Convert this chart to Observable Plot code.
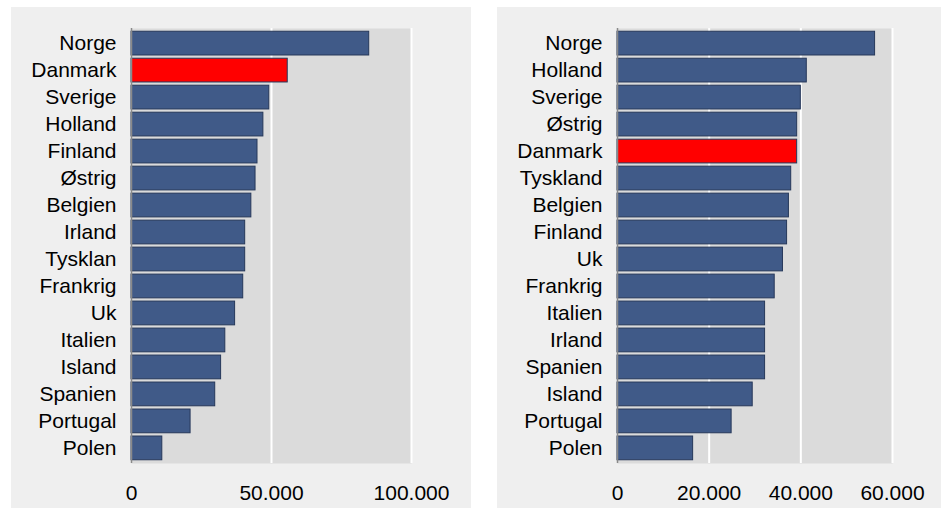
<!DOCTYPE html>
<html>
<head>
<meta charset="utf-8">
<script src="https://cdn.jsdelivr.net/npm/d3@7"></script>
<script src="https://cdn.jsdelivr.net/npm/@observablehq/plot@0.6"></script>
<style>
  html, body { margin: 0; padding: 0; background: #ffffff; }
  #wrap { position: relative; width: 943px; height: 510px; }
  .panel { position: absolute; background: #efefef; }
  #left { left: 11px; top: 7px; width: 460px; height: 501px; }
  #right { left: 497px; top: 7px; width: 444px; height: 501px; }
</style>
</head>
<body>
<div id="wrap">
  <div class="panel" id="left"></div>
  <div class="panel" id="right"></div>
</div>
<script>
const highlight = "Danmark";

const leftCountries = ["Norge","Danmark","Sverige","Holland","Finland","Østrig","Belgien","Irland","Tysklan","Frankrig","Uk","Italien","Island","Spanien","Portugal","Polen"];
const leftValues = [84900, 55800, 49200, 47100, 45000, 44300, 42800, 40600, 40600, 39900, 37000, 33500, 32000, 29900, 21100, 11000];
const leftTicks = [0, 50000, 100000];

const rightCountries = ["Norge","Holland","Sverige","Østrig","Danmark","Tyskland","Belgien","Finland","Uk","Frankrig","Italien","Irland","Spanien","Island","Portugal","Polen"];
const rightValues = [56200, 41300, 40000, 39200, 39200, 37900, 37400, 37000, 36100, 34300, 32200, 32200, 32200, 29500, 24900, 16500];
const rightTicks = [0, 20000, 40000, 60000];

const fmt = d3.formatLocale({decimal: ",", thousands: ".", grouping: [3], currency: ["", ""]}).format(",");

function chart(countries, values, ticks, width, marginRight) {
  const data = countries.map((c, i) => ({country: c, value: values[i]}));
  return Plot.plot({
    width: width,
    height: 501,
    marginLeft: 120,
    marginRight: marginRight,
    marginTop: 21,
    marginBottom: 45,
    style: {fontFamily: "'Liberation Sans', Arial, sans-serif", fontSize: "21px", color: "#000", background: "#efefef", overflow: "visible"},
    x: {domain: [0, ticks[ticks.length - 1]]},
    y: {domain: countries, padding: 0.12, round: false},
    marks: [
      Plot.frame({fill: "#dbdbdb", stroke: null}),
      Plot.gridX(ticks.filter(t => t > 0), {stroke: "#ffffff", strokeOpacity: 1, strokeWidth: 2}),
      Plot.barX(data, {
        x: "value", y: "country",
        fill: d => d.country === highlight ? "#ff0000" : "#405a88",
        stroke: "#26385a", strokeWidth: 1
      }),
      Plot.ruleX([0], {stroke: "#8a8a8a", strokeWidth: 1.5}),
      Plot.axisY({tickSize: 0, tickPadding: 15, fontSize: 21, label: null}),
      Plot.axisX({ticks: ticks, tickFormat: fmt, tickSize: 0, tickPadding: 22, fontSize: 21, label: null})
    ]
  });
}

document.getElementById("left").append(chart(leftCountries, leftValues, leftTicks, 460, 60));
document.getElementById("right").append(chart(rightCountries, rightValues, rightTicks, 444, 49));
</script>
</body>
</html>
